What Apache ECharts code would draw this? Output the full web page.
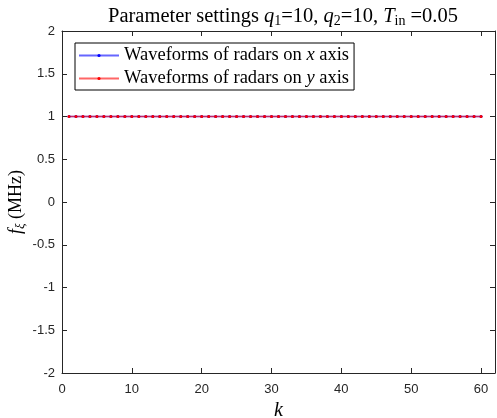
<!DOCTYPE html>
<html>
<head>
<meta charset="utf-8">
<script src="https://cdn.jsdelivr.net/npm/echarts@6/dist/echarts.min.js"></script>
<style>
  html, body { margin: 0; padding: 0; background: #fff; }
  #chart { width: 497px; height: 418px; }
</style>
</head>
<body>
<div id="chart"></div>
<script>
// Time index k
const kValues = [1,2,3,4,5,6,7,8,9,10,11,12,13,14,15,16,17,18,19,20,
  21,22,23,24,25,26,27,28,29,30,31,32,33,34,35,36,37,38,39,40,
  41,42,43,44,45,46,47,48,49,50,51,52,53,54,55,56,57,58,59,60];
// Frequency f_xi (MHz) of radars on the x axis
const xRadarFreq = [1,1,1,1,1,1,1,1,1,1,1,1,1,1,1,1,1,1,1,1,
  1,1,1,1,1,1,1,1,1,1,1,1,1,1,1,1,1,1,1,1,
  1,1,1,1,1,1,1,1,1,1,1,1,1,1,1,1,1,1,1,1];
// Frequency f_xi (MHz) of radars on the y axis
const yRadarFreq = [1,1,1,1,1,1,1,1,1,1,1,1,1,1,1,1,1,1,1,1,
  1,1,1,1,1,1,1,1,1,1,1,1,1,1,1,1,1,1,1,1,
  1,1,1,1,1,1,1,1,1,1,1,1,1,1,1,1,1,1,1,1];
const xTicks = [0, 10, 20, 30, 40, 50, 60];
const yTicks = [-2, -1.5, -1, -0.5, 0, 0.5, 1, 1.5, 2];

const serif = 'Liberation Serif';
const sans = 'Liberation Sans';
const axisColor = '#262626';

const pairs = (xs, ys) => xs.map((x, i) => [x, ys[i]]);

const chart = echarts.init(document.getElementById('chart'), null, { renderer: 'canvas' });

// box-style axis frame: line on every side, short ticks pointing inward
const frameAxis = () => ({
  axisLine: { show: true, onZero: false, lineStyle: { color: axisColor, width: 1 } },
  axisTick: { show: true, inside: true, length: 5, lineStyle: { color: axisColor } },
  splitLine: { show: false }
});

const option = {
  animation: false,
  backgroundColor: '#fff',
  title: {
    text: 'Parameter settings {i|q}{s|1}=10, {i|q}{s|2}=10, {i|T}{s|in} =0.05',
    left: 278, top: 1, textAlign: 'center',
    textStyle: {
      fontFamily: serif, fontSize: 20.5, fontWeight: 'normal', color: '#000',
      rich: {
        i: { fontFamily: serif, fontSize: 20.5, fontStyle: 'italic', color: '#000' },
        s: { fontFamily: serif, fontSize: 14, color: '#000', padding: [8, 0, 0, 0] }
      }
    }
  },
  grid: { left: 62, right: 2, top: 31, bottom: 45, containLabel: false, outerBoundsMode: 'none' },
  legend: {
    left: 75, top: 43, orient: 'vertical',
    backgroundColor: '#fff', borderColor: '#000', borderWidth: 1,
    padding: [3, 5, 2, 3], itemGap: 4,
    itemWidth: 40, itemHeight: 4,
    textStyle: {
      fontFamily: serif, fontSize: 18.5, color: '#000', lineHeight: 18,
      rich: { i: { fontFamily: serif, fontSize: 18.5, fontStyle: 'italic', color: '#000' } }
    },
    formatter: name => name.replace(/ (x|y) axis/, ' {i|$1} axis'),
    data: ['Waveforms of radars on x axis', 'Waveforms of radars on y axis']
  },
  xAxis: [
    Object.assign(frameAxis(), {
      type: 'value', min: 0, max: 62, interval: 10, position: 'bottom',
      name: 'k', nameLocation: 'middle', nameGap: 28,
      nameTextStyle: { fontFamily: serif, fontStyle: 'italic', fontSize: 20, color: '#000' },
      axisLabel: {
        fontFamily: sans, fontSize: 13, color: axisColor, margin: 10,
        formatter: v => (xTicks.includes(v) ? String(v) : '')
      }
    }),
    Object.assign(frameAxis(), {
      type: 'value', min: 0, max: 62, interval: 10, position: 'top',
      axisLabel: { show: false }
    })
  ],
  yAxis: [
    Object.assign(frameAxis(), {
      type: 'value', min: -2, max: 2, interval: 0.5, position: 'left',
      name: '{i|f}{s|ξ} (MHz)', nameLocation: 'middle', nameGap: 35, nameRotate: 90,
      nameMoveOverlap: false,
      nameTextStyle: {
        fontFamily: serif, fontSize: 18, color: '#000',
        rich: {
          i: { fontFamily: serif, fontStyle: 'italic', fontSize: 18, color: '#000' },
          s: { fontFamily: serif, fontStyle: 'italic', fontSize: 13, color: '#000', padding: [8, 0, 0, 0] }
        }
      },
      axisLabel: {
        fontFamily: sans, fontSize: 13, color: axisColor, margin: 7,
        formatter: v => (yTicks.includes(v) ? String(v) : '')
      }
    }),
    Object.assign(frameAxis(), {
      type: 'value', min: -2, max: 2, interval: 0.5, position: 'right',
      axisLabel: { show: false }
    })
  ],
  series: [
    {
      name: 'Waveforms of radars on x axis', type: 'line',
      data: pairs(kValues, xRadarFreq),
      color: '#0000ff',
      lineStyle: { color: 'rgba(0,0,255,0.6)', width: 1.5 },
      itemStyle: { color: '#0000ff' },
      symbol: 'circle', symbolSize: 3, showSymbol: true
    },
    {
      name: 'Waveforms of radars on y axis', type: 'line',
      data: pairs(kValues, yRadarFreq),
      color: '#ff0000',
      lineStyle: { color: 'rgba(255,0,0,0.6)', width: 1.5 },
      itemStyle: { color: '#ff0000' },
      symbol: 'circle', symbolSize: 3, showSymbol: true
    }
  ]
};

chart.setOption(option);
</script>
</body>
</html>
